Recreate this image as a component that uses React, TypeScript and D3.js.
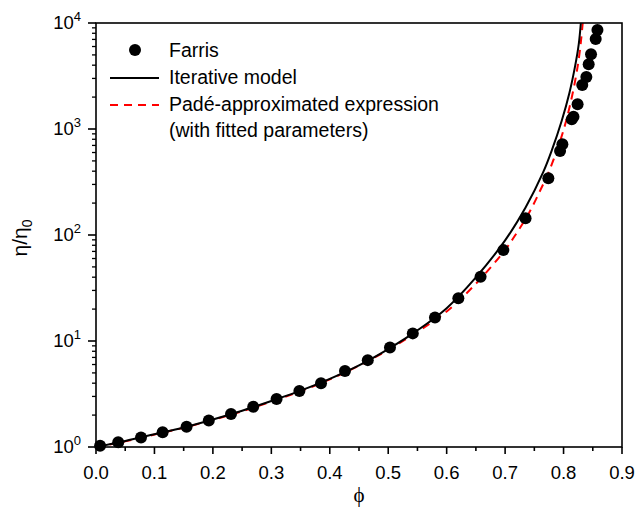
import * as d3 from "d3";

// Farris data points
const farrisPhi = [0.007, 0.038, 0.077, 0.114, 0.155, 0.193, 0.231, 0.269, 0.309, 0.348, 0.385, 0.426,
    0.465, 0.503, 0.542, 0.580, 0.620, 0.658, 0.697, 0.735, 0.774, 0.794, 0.798, 0.814, 0.817,
    0.824, 0.832, 0.839, 0.843, 0.847, 0.855, 0.858];
const farrisEta = [1.03, 1.11, 1.23, 1.38, 1.55, 1.78, 2.05, 2.4, 2.84, 3.38, 4.0, 5.2,
    6.6, 8.7, 11.8, 16.7, 25.3, 40.4, 72, 144, 343, 620, 717, 1235, 1306,
    1710, 2600, 3100, 4080, 5070, 7060, 8600];

// Iterative model (black solid)
const iterPhi = [0, 0.05, 0.1, 0.15, 0.2, 0.25, 0.3, 0.35, 0.4, 0.45, 0.5, 0.55, 0.6, 0.65, 0.7,
    0.735, 0.765, 0.78, 0.797, 0.81, 0.82, 0.826, 0.8296];
const iterEta = [1.0, 1.14, 1.32, 1.53, 1.82, 2.2, 2.72, 3.4, 4.4, 5.9, 8.4, 12.6, 20.4, 39.8, 89,
    182, 389, 631, 1202, 2188, 3981, 6310, 10000];

// Padé-approximated expression (red dashed)
const padePhi = [0, 0.05, 0.1, 0.15, 0.2, 0.25, 0.3, 0.35, 0.4, 0.45, 0.5, 0.55, 0.6, 0.65, 0.7,
    0.72, 0.74, 0.76, 0.775, 0.79, 0.8, 0.81, 0.82, 0.826, 0.83, 0.8328];
const padeEta = [1.0, 1.13, 1.31, 1.52, 1.80, 2.17, 2.68, 3.36, 4.35, 5.85, 8.25, 12.2, 19.0, 34.7, 72.4,
    105, 158, 263, 398, 661, 977, 1585, 2880, 4570, 6920, 10000];

const xTicks = [0.0, 0.1, 0.2, 0.3, 0.4, 0.5, 0.6, 0.7, 0.8, 0.9];
const yExponents = [0, 1, 2, 3, 4];

const legendLabels = ["Farris", "Iterative model", "Padé-approximated expression", "(with fitted parameters)"];

const font = "'Liberation Sans', Arial, sans-serif";

export default function App() {
    const area = { left: 96, right: 622, top: 23, bottom: 447 };

    const scX = d3.scaleLinear().domain([0, 0.9]).range([area.left, area.right]);
    const scY = d3.scaleLog().domain([1, 10000]).range([area.bottom, area.top]);

    const line = (xs: number[], ys: number[]) =>
        d3.line<number>()
            .x((_, i) => scX(xs[i]))
            .y((_, i) => scY(ys[i]))
            .curve(d3.curveCatmullRom.alpha(0.5))(xs) || "";

    const minorX = d3.range(0.05, 0.9, 0.1);
    const minorY: number[] = [];
    for (let e = 0; e < 4; e++)
        for (let k = 2; k <= 9; k++) minorY.push(k * Math.pow(10, e));

    return (
        <svg width={636} height={510} style={{ display: "block", position: "absolute", left: 0, top: 0 }}
            fontFamily={font}>
            <defs>
                <clipPath id="plot">
                    <rect x={area.left} y={area.top} width={area.right - area.left} height={area.bottom - area.top} />
                </clipPath>
            </defs>

            <g clipPath="url(#plot)">
                <path d={line(padePhi, padeEta)} fill="none" stroke="#ff0000" strokeWidth={2} strokeDasharray="8,6" />
                <path d={line(iterPhi, iterEta)} fill="none" stroke="#000" strokeWidth={2} />
            </g>

            {farrisPhi.map((p, i) => (
                <circle key={i} cx={scX(p)} cy={scY(farrisEta[i])} r={6} fill="#000" />
            ))}

            {/* frame */}
            <rect x={area.left} y={area.top} width={area.right - area.left} height={area.bottom - area.top}
                fill="none" stroke="#000" strokeWidth={1.6} />

            {/* x axis ticks */}
            {xTicks.map(t => (
                <g key={t}>
                    <line x1={scX(t)} x2={scX(t)} y1={area.bottom} y2={area.bottom + 7} stroke="#000" strokeWidth={1.6} />
                    <text x={scX(t)} y={area.bottom + 32} textAnchor="middle" fontSize={18.5}>{t.toFixed(1)}</text>
                </g>
            ))}
            {minorX.map(t => (
                <line key={t} x1={scX(t)} x2={scX(t)} y1={area.bottom} y2={area.bottom + 4} stroke="#000" strokeWidth={1.6} />
            ))}

            {/* y axis ticks */}
            {yExponents.map(e => (
                <g key={e}>
                    <line x1={area.left - 8} x2={area.left} y1={scY(Math.pow(10, e))} y2={scY(Math.pow(10, e))} stroke="#000" strokeWidth={1.6} />
                    <text x={area.left - 15} y={scY(Math.pow(10, e)) + 6} textAnchor="end" fontSize={18.5}>
                        10<tspan dy={-8} fontSize={13}>{e}</tspan>
                    </text>
                </g>
            ))}
            {minorY.map(v => (
                <line key={v} x1={area.left - 4} x2={area.left} y1={scY(v)} y2={scY(v)} stroke="#000" strokeWidth={1.3} />
            ))}

            {/* axis titles */}
            <text x={359} y={502} textAnchor="middle" fontSize={21} fontFamily="'Liberation Serif', 'DejaVu Serif', serif">ϕ</text>
            <text transform="translate(27, 238) rotate(-90)" textAnchor="middle" fontSize={21}>
                η/η<tspan dy={5} fontSize={14}>0</tspan>
            </text>

            {/* legend */}
            <circle cx={135} cy={50} r={6} fill="#000" />
            <text x={169} y={57} fontSize={19.5}>{legendLabels[0]}</text>
            <line x1={110} x2={159} y1={78} y2={78} stroke="#000" strokeWidth={2} />
            <text x={169} y={84} fontSize={19.5}>{legendLabels[1]}</text>
            <line x1={110} x2={159} y1={105} y2={105} stroke="#ff0000" strokeWidth={2} strokeDasharray="8,6" />
            <text x={169} y={111} fontSize={19.5}>{legendLabels[2]}</text>
            <text x={169} y={137} fontSize={19.5}>{legendLabels[3]}</text>
        </svg>
    );
}
